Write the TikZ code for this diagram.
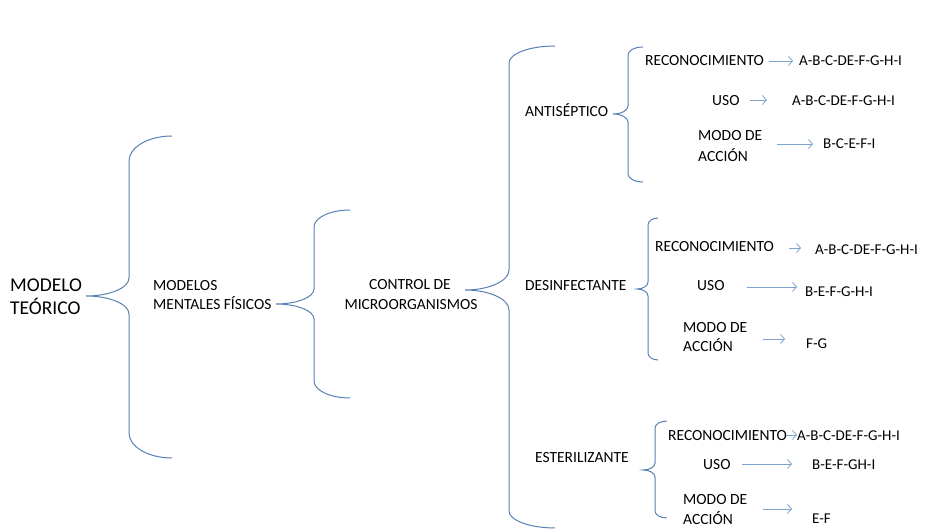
\documentclass[tikz,border=0pt]{standalone}
\usepackage{fontspec}
\setmainfont{Carlito}
\usetikzlibrary{arrows.meta}

\definecolor{bracecol}{RGB}{88,128,180}
\definecolor{arrowcol}{RGB}{125,162,206}

% Curly brace opening to the right.
% #1 name of the middle tip, #2 x of the top/bottom ends, #3 top y, #4 bottom y,
% #5 x of the spine, #6 x of the middle tip, #7 middle y,
% #8 height of the end arcs, #9 height of the middle arcs
\newcommand\curlybrace[9]{%
  \coordinate (#1) at (#6,#7);
  \draw[bracestyle]
    (#2,#3) .. controls ({#2-0.55*(#2-#5)},#3) and (#5,{#3+0.45*#8}) .. (#5,{#3+#8})
    -- (#5,{#7-#9})
    .. controls (#5,{#7-0.45*#9}) and ({#6+0.55*(#5-#6)},#7) .. (#1)
    .. controls ({#6+0.55*(#5-#6)},#7) and (#5,{#7+0.45*#9}) .. (#5,{#7+#9})
    -- (#5,{#4-#8})
    .. controls (#5,{#4-0.45*#8}) and ({#2-0.55*(#2-#5)},#4) .. (#2,#4);
}

\begin{document}
\begin{tikzpicture}[x=1pt,y=-1pt,
  bracestyle/.style={draw=bracecol,line width=1pt},
  arr/.style={draw=arrowcol,line width=0.8pt,-{Straight Barb[length=4pt,width=9pt]}},
  lbl/.style={anchor=base west,inner sep=0pt,font=\fontsize{15.5}{19}\selectfont},
  big/.style={anchor=base west,inner sep=0pt,font=\fontsize{19.5}{23}\selectfont},
  code/.style={anchor=base west,inner sep=0pt,font=\fontsize{15}{18}\selectfont},
]
\useasboundingbox (0,0) rectangle (927,529);

% ---- left levels ----
\node[big] (mt1) at (10,292) {MODELO};
\node[big] (mt2) at (10,315) {TEÓRICO};
\curlybrace{b1}{172}{136}{458}{129}{86}{296}{25}{18}

\node[lbl] (mm1) at (153,291) {MODELOS};
\node[lbl] (mm2) at (153,310) {MENTALES FÍSICOS};
\curlybrace{b2}{350}{210}{398}{314}{276}{304}{17}{15}

\node[lbl,anchor=base] (cm1) at (410,290) {CONTROL DE};
\node[lbl,anchor=base] (cm2) at (411,310) {MICROORGANISMOS};
\curlybrace{b3}{555}{46}{528}{509}{465}{290}{17}{20}

% ---- antiséptico ----
\node[lbl] (ant) at (525,117) {ANTISÉPTICO};
\curlybrace{b4}{643}{47}{182}{628}{613}{114}{8}{8}

\node[lbl] (arec) at (645,66) {RECONOCIMIENTO};
\node[code] (arecc) at (799,66) {A-B-C-DE-F-G-H-I};
\coordinate (arec0) at (769,61); \coordinate (arec1) at (793,61);
\draw[arr] (arec0) -- (arec1);

\node[lbl] (auso) at (712,106) {USO};
\node[code] (ausoc) at (792,106) {A-B-C-DE-F-G-H-I};
\coordinate (auso0) at (750,100); \coordinate (auso1) at (767,100);
\draw[arr] (auso0) -- (auso1);

\node[lbl] (amod1) at (698,141) {MODO DE};
\node[lbl] (amod2) at (698,162) {ACCIÓN};
\node[code] (amodc) at (823,149) {B-C-E-F-I};
\coordinate (amod0) at (777,144); \coordinate (amod1e) at (813,144);
\draw[arr] (amod0) -- (amod1e);

% ---- desinfectante ----
\node[lbl] (des) at (525,291) {DESINFECTANTE};
\curlybrace{b5}{658}{218}{360}{648}{637}{289}{7}{7}

\node[lbl] (drec) at (655,252) {RECONOCIMIENTO};
\node[code] (drecc) at (815,255) {A-B-C-DE-F-G-H-I};
\coordinate (drec0) at (789,248); \coordinate (drec1) at (801,248);
\draw[arr] (drec0) -- (drec1);

\node[lbl] (duso) at (697,291) {USO};
\node[code] (dusoc) at (805,297) {B-E-F-G-H-I};
\coordinate (duso0) at (747,287); \coordinate (duso1) at (797,287);
\draw[arr] (duso0) -- (duso1);

\node[lbl] (dmod1) at (683,333) {MODO DE};
\node[lbl] (dmod2) at (683,352) {ACCIÓN};
\node[code] (dmodc) at (806,349) {F-G};
\coordinate (dmod0) at (763,339); \coordinate (dmod1e) at (785,339);
\draw[arr] (dmod0) -- (dmod1e);

% ---- esterilizante ----
\node[lbl] (est) at (535,462) {ESTERILIZANTE};
\curlybrace{b6}{667}{421}{518}{655}{643}{470}{7}{7}

\node[lbl] (erec) at (668,440) {RECONOCIMIENTO};
\node[code] (erecc) at (797,440) {A-B-C-DE-F-G-H-I};
\coordinate (erec0) at (786,435); \coordinate (erec1) at (797,435);
\draw[arr] (erec0) -- (erec1);

\node[lbl] (euso) at (703,469) {USO};
\node[code] (eusoc) at (812,469) {B-E-F-GH-I};
\coordinate (euso0) at (742,464); \coordinate (euso1) at (792,464);
\draw[arr] (euso0) -- (euso1);

\node[lbl] (emod1) at (683,504) {MODO DE};
\node[lbl] (emod2) at (683,524) {ACCIÓN};
\node[code] (emodc) at (812,523) {E-F};
\coordinate (emod0) at (763,509); \coordinate (emod1e) at (792,509);
\draw[arr] (emod0) -- (emod1e);
\end{tikzpicture}
\end{document}
